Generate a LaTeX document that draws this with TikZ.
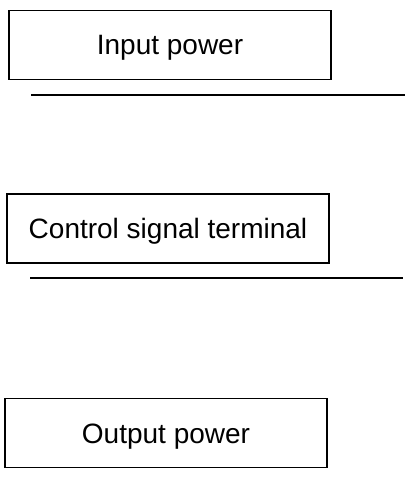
\documentclass[tikz,border=0pt]{standalone}
\usepackage{fontspec}
\setmainfont{Liberation Sans}
\usetikzlibrary{positioning}

\begin{document}
\begin{tikzpicture}[
  x=0.5pt,y=-0.5pt,
  font=\fontsize{14pt}{16pt}\selectfont,
  box/.style={draw,line width=0.6pt,inner sep=0pt,
              text height=10pt,text depth=0pt,
              minimum width=161pt,minimum height=34.5pt},
  rule/.style={line width=0.8pt}]
\useasboundingbox (0,0) rectangle (418,480);
\node[box] (inp) at (170,45) {Input power};
\node[box] (ctl) at (168,228.5) {Control signal terminal};
\node[box] (out) at (166,433) {Output power};
\coordinate (r1a) at (31,95);  \coordinate (r1b) at (405,95);
\coordinate (r2a) at (30,278); \coordinate (r2b) at (403,278);
\draw[rule] (r1a)--(r1b); \draw[rule] (r2a)--(r2b);
\end{tikzpicture}
\end{document}
